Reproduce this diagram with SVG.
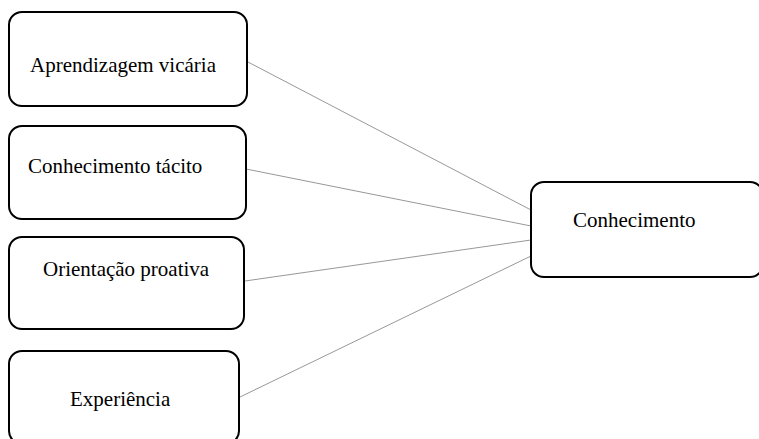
<svg xmlns="http://www.w3.org/2000/svg" width="759" height="439" viewBox="0 0 759 439">
<style>
.box{fill:#fff;stroke:#000;stroke-width:2}
.lbl{font-family:"Liberation Serif","Times New Roman",serif;font-size:21px;fill:#000}
.conn{stroke:#8c8c8c;stroke-width:0.9;fill:none}
</style>
<rect width="759" height="439" fill="#fff"/>
<g id="connectors">
<line class="conn" x1="248" y1="62" x2="531" y2="210"/>
<line class="conn" x1="246" y1="169" x2="531" y2="226"/>
<line class="conn" x1="245" y1="281" x2="531" y2="240"/>
<line class="conn" x1="240" y1="397" x2="531" y2="256"/>
</g>
<g id="n1">
<rect class="box" x="9" y="12" width="238" height="94" rx="13"/>
<text class="lbl" x="30" y="72">Aprendizagem vicária</text>
</g>
<g id="n2">
<rect class="box" x="9" y="126" width="237" height="93" rx="13"/>
<text class="lbl" x="28" y="173">Conhecimento tácito</text>
</g>
<g id="n3">
<rect class="box" x="9" y="237" width="235" height="92" rx="13"/>
<text class="lbl" x="43" y="276">Orientação proativa</text>
</g>
<g id="n4">
<rect class="box" x="9" y="351" width="230" height="93" rx="13"/>
<text class="lbl" x="70" y="406">Experiência</text>
</g>
<g id="n5">
<rect class="box" x="531" y="182" width="232" height="95" rx="13"/>
<text class="lbl" x="573" y="227">Conhecimento</text>
</g>
</svg>
